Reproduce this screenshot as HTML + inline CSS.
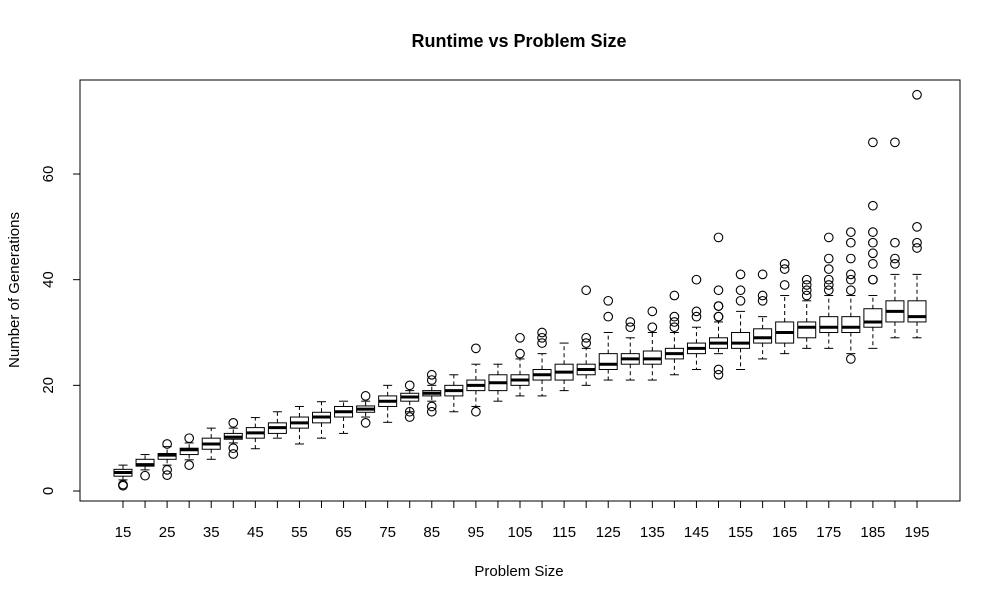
<!DOCTYPE html>
<html><head><meta charset="utf-8"><style>
body{margin:0;background:#fff;}
svg{display:block;font-family:"Liberation Sans",sans-serif;}
</style></head><body>
<svg id="chart" width="1000" height="600">
<rect width="1000" height="600" fill="#fff"/>
<text x="519" y="47" text-anchor="middle" font-size="18" font-weight="bold">Runtime vs Problem Size</text>
<text x="519" y="576" text-anchor="middle" font-size="15">Problem Size</text>
<text transform="translate(19,290) rotate(-90)" text-anchor="middle" font-size="15">Number of Generations</text>
<rect x="80" y="80" width="880" height="421" fill="none" stroke="#000"/>
<g id="g"></g>
</svg>
<script>
const categories=[15,20,25,30,35,40,45,50,55,60,65,70,75,80,85,90,95,100,105,110,115,120,125,130,135,140,145,150,155,160,165,170,175,180,185,190,195];
const lows=[2.1,4,4.9,5.9,6,9.1,8,10,8.9,10,10.9,14,13,15,17,15,16,17,18,18,19,20,21,21,21,22,23,26,23,25,26,27,27,26,27,29,29];
const q1s=[2.8,4.7,6,6.9,7.9,9.8,10,10.9,11.9,12.9,14,14.9,16,17,18,18,19,19,20,21,21,22,23,24,24,25,26,27,27,28,28,29,30,30,31,32,32];
const medians=[3.5,5,6.8,7.8,8.9,10.2,11,12,12.9,14,15,15.5,17,17.8,18.5,19,20,20.5,21,22,22.5,23,24,25,25,26,27,28,28,29,30,31,31,31,32,34,33];
const q3s=[4.1,6,7.1,8.1,10,10.9,12,12.9,14,14.9,16,16.1,18,18.5,19,20,21,22,22,23,24,24,26,26,26.5,27,28,29,30,30.7,32,32,33,33,34.5,36,36];
const highs=[4.9,6.9,8.4,9.1,11.9,11.9,13.9,15,16,16.9,17,17,20,19,20,22,24,24,25,26,28,27,30,29,30,30,31,32,34,33,37,36,37,37,37,41,41];
const outliers=[[1,1.2],[2.9],[8.9,4,3],[10,4.9],[],[12.9,8.1,7],[],[],[],[],[],[18,12.9],[],[20,15,14],[22,21,16,15],[],[27,15],[],[26,29],[28,29,30],[],[28,29,38],[33,36],[31,32],[31,34],[31,32,33,37],[33,34,40],[33,33,35,35,38,48,23,22],[36,38,41],[36,37,41],[39,42,43],[37,38,39,40],[38,39,40,42,44,48],[38,40,41,44,47,49,25],[40,40,43,45,47,49,54,66],[43,44,47,66],[46,47,50,75]];
const yTicks=[0,20,40,60];
const xLabels=[15,25,35,45,55,65,75,85,95,105,115,125,135,145,155,165,175,185,195];
const NS="http://www.w3.org/2000/svg",g=document.getElementById('g');
const y=v=>491-v*5.283;
const x=i=>123+i*(917-123)/(categories.length-1);
function mk(t,a){const e=document.createElementNS(NS,t);for(const k in a)e.setAttribute(k,a[k]);g.appendChild(e);return e;}
// y axis
let ya=mk('line',{x1:80,x2:80,y1:y(0),y2:y(60),stroke:'#000'});


yTicks.forEach(v=>{
 const l=mk('line',{x1:73,x2:80,y1:y(v),y2:y(v),stroke:'#000'});
 
 
 const t=mk('text',{transform:`translate(53,${y(v)}) rotate(-90)`,'text-anchor':'middle','font-size':15});
 t.textContent=v;
 
 
});
let xa=mk('line',{x1:x(0),x2:x(categories.length-1),y1:501,y2:501,stroke:'#000'});


categories.forEach((c,i)=>{
 const l=mk('line',{x1:x(i),x2:x(i),y1:501,y2:508,stroke:'#000'});
 
 
 if(xLabels.includes(c)){
  const t=mk('text',{x:x(i),y:537,'text-anchor':'middle','font-size':15});
  t.textContent=c;
  
  
 }
 const cx=x(i),hw=9,cw=4.5;
 const w1=mk('line',{x1:cx,x2:cx,y1:y(q3s[i]),y2:y(highs[i]),stroke:'#000','stroke-dasharray':'4,3'});
 
 
 const w2=mk('line',{x1:cx,x2:cx,y1:y(q1s[i]),y2:y(lows[i]),stroke:'#000','stroke-dasharray':'4,3'});
 
 
 const c1=mk('line',{x1:cx-cw,x2:cx+cw,y1:y(highs[i]),y2:y(highs[i]),stroke:'#000'});
 
 
 const c2=mk('line',{x1:cx-cw,x2:cx+cw,y1:y(lows[i]),y2:y(lows[i]),stroke:'#000'});
 
 
 const b=mk('rect',{x:cx-hw,y:y(q3s[i]),width:2*hw,height:y(q1s[i])-y(q3s[i]),fill:'#fff',stroke:'#000'});
 
 
 const m=mk('line',{x1:cx-hw,x2:cx+hw,y1:y(medians[i]),y2:y(medians[i]),stroke:'#000','stroke-width':3});
 
 
 outliers[i].forEach(v=>{
  const o=mk('circle',{cx:cx,cy:y(v),r:4.3,fill:'none',stroke:'#000','stroke-width':1.1});
  
  
 });
});
</script>
</body></html>
